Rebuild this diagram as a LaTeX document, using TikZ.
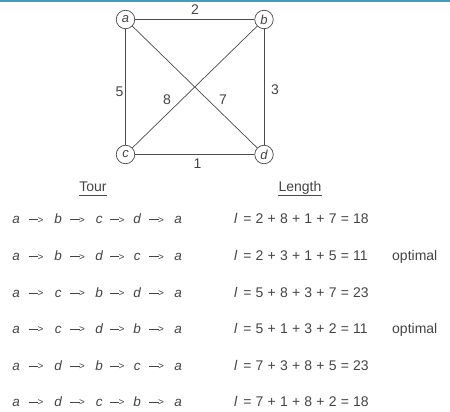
\documentclass[tikz,border=0pt]{standalone}
\usepackage{fontspec}
\setmainfont{Liberation Sans}
\definecolor{txt}{HTML}{444444}
\definecolor{lncol}{HTML}{4A4A4A}
\definecolor{topbar}{HTML}{3FA0B3}
\newcommand\ttok[1]{\makebox[10pt][c]{\itshape #1}}
\newcommand\tarr[1]{\makebox[#1pt][c]{\rule[3.7pt]{9.5pt}{0.6pt}\kern-0.8pt{\fontsize{10}{10}\selectfont\raisebox{0.4pt}{>}}\kern2pt}}
\newcommand\tourline[5]{\ttok{#1}\tarr{32}\ttok{#2}\tarr{31}\ttok{#3}\tarr{28}\ttok{#4}\tarr{31}\ttok{#5}}
\newcommand\lrow[1]{\spaceskip=4.2pt\relax{\itshape l}\hspace{6pt}#1}
\begin{document}
\begin{tikzpicture}[x=1pt,y=-1pt,
  every node/.style={text=txt},
  vtx/.style={circle,draw=lncol,line width=0.7pt,minimum size=18.5pt,inner sep=0pt,fill=white,font=\fontsize{13}{14}\selectfont\itshape},
  edge/.style={draw=lncol,line width=0.7pt},
  lbl/.style={inner sep=0pt,font=\fontsize{14}{15}\selectfont},
  hdr/.style={inner sep=0pt,anchor=base,font=\fontsize{14}{15}\selectfont},
  uline/.style={draw=lncol,line width=0.6pt},
  tourrow/.style={inner sep=0pt,anchor=base west,font=\fontsize{13.5}{15}\selectfont},
  lenrow/.style={inner sep=0pt,anchor=base west,font=\fontsize{14}{15}\selectfont},
  optrow/.style={inner sep=0pt,anchor=base west,font=\fontsize{14}{15}\selectfont}]
\useasboundingbox (0,0) rectangle (450,412);
\fill[topbar] (0,0) rectangle (450,1.6);
% graph
\node[vtx] (a) at (125.5,19.5) {a};
\node[vtx] (b) at (264,19.5) {b};
\node[vtx] (c) at (125.5,154.5) {c};
\node[vtx] (d) at (264,154.5) {d};
\draw[edge] (a) -- (b);
\draw[edge] (a) -- (c);
\draw[edge] (a) -- (d);
\draw[edge] (b) -- (c);
\draw[edge] (b) -- (d);
\draw[edge] (c) -- (d);
\node[lbl] (w2) at (195,10) {2};
\node[lbl] (w5) at (119.5,91.5) {5};
\node[lbl] (w8) at (167,100) {8};
\node[lbl] (w7) at (223,100) {7};
\node[lbl] (w3) at (275,89.5) {3};
\node[lbl] (w1) at (197.5,163.5) {1};
% headers
\node[hdr] (tourh) at (93,191) {Tour};
\node[hdr] (lenh) at (300,191) {Length};
\draw[uline] ([yshift=-4pt]tourh.base west) -- ([yshift=-4pt]tourh.base east);
\draw[uline] ([yshift=-4pt]lenh.base west) -- ([yshift=-4pt]lenh.base east);
% rows
\node[tourrow] (t1) at (11,223.5) {\tourline{a}{b}{c}{d}{a}};
\node[tourrow] (t2) at (11,260.5) {\tourline{a}{b}{d}{c}{a}};
\node[tourrow] (t3) at (11,297) {\tourline{a}{c}{b}{d}{a}};
\node[tourrow] (t4) at (11,333) {\tourline{a}{c}{d}{b}{a}};
\node[tourrow] (t5) at (11,370) {\tourline{a}{d}{b}{c}{a}};
\node[tourrow] (t6) at (11,406) {\tourline{a}{d}{c}{b}{a}};
\node[lenrow] (l1) at (234,223.5) {\lrow{= 2 + 8 + 1 + 7 = 18}};
\node[lenrow] (l2) at (234,260.5) {\lrow{= 2 + 3 + 1 + 5 = 11}};
\node[lenrow] (l3) at (234,297) {\lrow{= 5 + 8 + 3 + 7 = 23}};
\node[lenrow] (l4) at (234,333) {\lrow{= 5 + 1 + 3 + 2 = 11}};
\node[lenrow] (l5) at (234,370) {\lrow{= 7 + 3 + 8 + 5 = 23}};
\node[lenrow] (l6) at (234,406) {\lrow{= 7 + 1 + 8 + 2 = 18}};
\node[optrow] (o2) at (392,260.5) {optimal};
\node[optrow] (o4) at (392,333) {optimal};
\end{tikzpicture}
\end{document}
